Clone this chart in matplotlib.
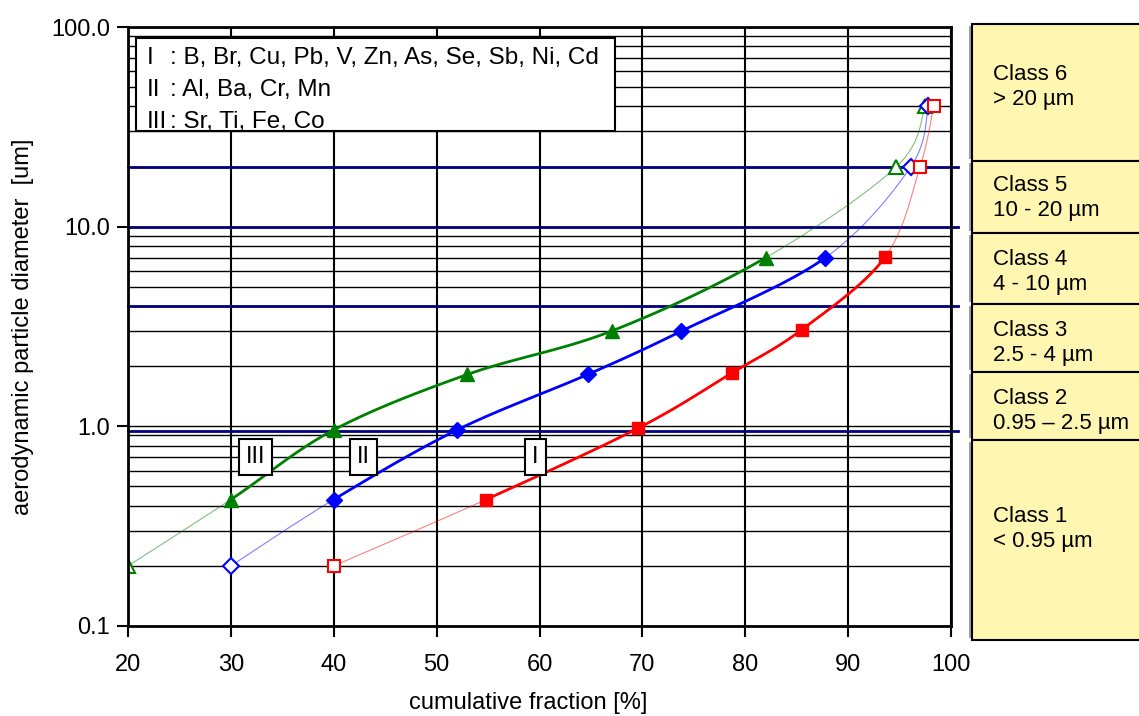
import matplotlib
matplotlib.use('Agg')
import matplotlib.pyplot as plt
import numpy as np
from matplotlib.patches import Rectangle

# ---- data (x = cumulative fraction %, y = diameter um)
# group III (green), group II (blue), group I (red)
x_III = [20, 30, 40, 53, 67, 82, 94.7, 97.5]
y_III = [0.2, 0.43, 0.96, 1.82, 3.0, 7.0, 20, 40]
x_II = [30, 40, 52, 64.7, 73.8, 87.8, 96.1, 97.8]
y_II = [0.2, 0.43, 0.96, 1.82, 3.0, 7.0, 20, 40]
x_I = [40, 54.8, 69.6, 78.7, 85.5, 93.6, 97.0, 98.3]
y_I = [0.2, 0.43, 0.98, 1.85, 3.05, 7.05, 20, 40]
# open markers: first point and the last two; filled in between
filled = [False, True, True, True, True, True, False, False]

class_bounds = [20, 10, 4, 0.95]
class_labels = ['Class 6\n> 20 µm', 'Class 5\n10 - 20 µm', 'Class 4\n4 - 10 µm',
                'Class 3\n2.5 - 4 µm', 'Class 2\n0.95 \u2013 2.5 µm', 'Class 1\n< 0.95 µm']
legend_rows = [('I', ': B, Br, Cu, Pb, V, Zn, As, Se, Sb, Ni, Cd'),
               ('II', ': Al, Ba, Cr, Mn'),
               ('III', ': Sr, Ti, Fe, Co')]
group_tags = ['III', 'II', 'I']
group_tag_x = [32.4, 42.9, 59.6]
group_tag_y = 0.7

W, H = 1139, 716
plt.rcParams['font.family'] = ['Liberation Sans', 'DejaVu Sans']


def fx(px):
    return px / W


def fy(py):
    return 1 - py / H


#...!...!....................
def smooth_segments(xs, ys, n=30):
    # excel-like smoothed line: catmull-rom in (x, log y), one piece per segment
    x = np.asarray(xs, float)
    ly = np.log10(np.asarray(ys, float))
    P = np.column_stack([x, ly])
    P = np.vstack([P[0], P, P[-1]])
    segs = []
    t = np.linspace(0, 1, n)[:, None]
    for i in range(1, len(P) - 2):
        p0, p1, p2, p3 = P[i - 1], P[i], P[i + 1], P[i + 2]
        c = 0.5 * ((2 * p1) + (-p0 + p2) * t + (2 * p0 - 5 * p1 + 4 * p2 - p3) * t ** 2
                   + (-p0 + 3 * p1 - 3 * p2 + p3) * t ** 3)
        segs.append((c[:, 0], 10 ** c[:, 1]))
    return segs


def draw_group(ax, xs, ys, color, marker, ms):
    segs = smooth_segments(xs, ys)
    for i, (sx, sy) in enumerate(segs):
        if filled[i] and filled[i + 1]:
            ax.plot(sx, sy, color=color, lw=2.0, zorder=4)
        else:
            ax.plot(sx, sy, color=color, lw=0.8, alpha=0.5, zorder=4)
    for x, y, f in zip(xs, ys, filled):
        ax.plot(x, y, marker=marker, ms=ms, color=color, zorder=5,
                mfc=color if f else 'white', mec=color, mew=1.5 if not f else 1.0)


fig = plt.figure(figsize=(W / 100, H / 100), dpi=100)
ax = fig.add_axes([fx(128), fy(626), fx(951) - fx(128), (626 - 27) / H])

ax.set_yscale('log')
ax.set_xlim(20, 100)
ax.set_ylim(0.1, 100)

ax.set_xticks(range(20, 101, 10))
ax.set_yticks([0.1, 1, 10, 100])
ax.set_yticklabels(['0.1', '1.0', '10.0', '100.0'])
ax.yaxis.set_minor_formatter(plt.NullFormatter())
ax.tick_params(which='major', direction='out', length=8, width=1.5, labelsize=17, colors='black')
ax.tick_params(axis='x', pad=12)
ax.tick_params(axis='y', pad=5)
ax.tick_params(which='minor', length=0)

ax.grid(True, which='major', axis='x', color='black', lw=1.5, zorder=1)
ax.grid(True, which='both', axis='y', color='black', lw=1.0, zorder=1)
for s in ax.spines.values():
    s.set_linewidth(2.0)
    s.set_zorder(6)

for b in class_bounds:
    ax.axhline(b, xmin=0, xmax=1.008, color='#000080', lw=2.0, zorder=2, clip_on=False)

draw_group(ax, x_III, y_III, '#008000', '^', 10)
draw_group(ax, x_II, y_II, '#0000FF', 'D', 8)
draw_group(ax, x_I, y_I, '#FF0000', 's', 8.5)

for tag, tx in zip(group_tags, group_tag_x):
    ax.text(tx, group_tag_y, tag, fontsize=17, ha='center', va='center', zorder=7,
            bbox=dict(boxstyle='square,pad=0.3', fc='white', ec='black', lw=1.5))

ax.set_xlabel('cumulative fraction [%]', fontsize=17)
ax.set_ylabel('aerodynamic particle diameter  [um]', fontsize=17)
ax.xaxis.set_label_coords((528 - 128) / 823, (626 - 692) / 599)
ax.yaxis.set_label_coords((34 - 128) / 823, 0.5)

# legend box with the element groups
fig.patches.append(Rectangle((fx(136), fy(131)), fx(615) - fx(136), (131 - 38) / H,
                             transform=fig.transFigure, fc='white', ec='black', lw=1.5, zorder=8))
for k, (rom, txt) in enumerate(legend_rows):
    yy = fy(58 + k * 32)
    fig.text(fx(147), yy, rom, fontsize=17.5, va='center', zorder=9)
    fig.text(fx(170), yy, txt, fontsize=17.5, va='center', zorder=9)

# size class boxes on the right
edges = [24, 161, 233, 304, 372, 440, 640]
text_top = [64, 175, 249, 320, 388, 506]
for k, lab in enumerate(class_labels):
    top, bot = edges[k], edges[k + 1]
    fig.patches.append(Rectangle((fx(969), fy(bot - 2)), 3 / W, (bot - top - 4) / H,
                                 transform=fig.transFigure, fc='#a0a0a0', ec='none', zorder=1))
    fig.patches.append(Rectangle((fx(972), fy(bot)), fx(1145) - fx(972), (bot - top) / H,
                                 transform=fig.transFigure, fc='#FFF6B2', ec='black', lw=1.5, zorder=2))
    fig.text(fx(993), fy(text_top[k]), lab, fontsize=16, va='top', ha='left',
             linespacing=1.25, zorder=3)

fig.savefig('out.png', dpi=100)
